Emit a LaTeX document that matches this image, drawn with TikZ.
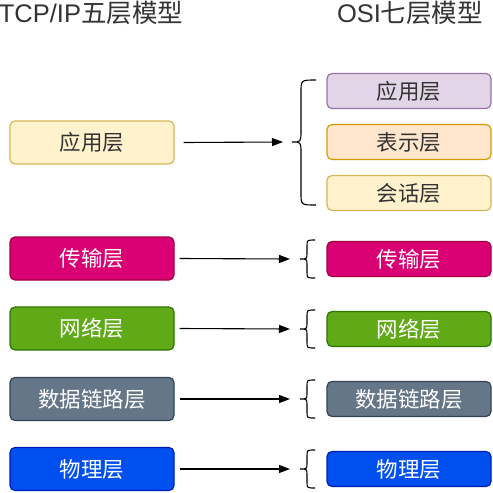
\documentclass[tikz,border=0pt]{standalone}
\usepackage{fontspec}
\setmainfont{Liberation Sans}
\newfontfamily\cjk{Noto Sans CJK SC}
\usetikzlibrary{arrows.meta}
\definecolor{ylwF}{HTML}{FFF2CC}\definecolor{ylwD}{HTML}{D6B656}
\definecolor{purF}{HTML}{E1D5E7}\definecolor{purD}{HTML}{9673A6}
\definecolor{orgF}{HTML}{FFE6CC}\definecolor{orgD}{HTML}{D79B00}
\definecolor{magF}{HTML}{D80073}\definecolor{magD}{HTML}{A50040}
\definecolor{grnF}{HTML}{60A917}\definecolor{grnD}{HTML}{2D7600}
\definecolor{gryF}{HTML}{647687}\definecolor{gryD}{HTML}{314354}
\definecolor{bluF}{HTML}{0050EF}\definecolor{bluD}{HTML}{001DBC}
\definecolor{txt}{HTML}{333333}
\tikzset{
  layer/.style={draw, rounded corners=5pt, line width=1.2pt, minimum width=164pt, inner sep=0pt, font=\fontsize{21.5}{21.5}\selectfont\cjk},
  lbox/.style={layer, minimum height=43pt},
  rbox/.style={layer, minimum height=35pt},
  conn/.style={-{Triangle[length=11pt,width=8pt]}, line width=1.1pt},
  brc/.style={line width=1.1pt},
  ttl/.style={font=\fontsize{25.5}{25.5}\selectfont, text=txt, inner sep=0pt}
}
\begin{document}
\begin{tikzpicture}[x=1pt,y=-1pt]
\useasboundingbox (0,0) rectangle (493,493);
\node[ttl] (t1) at (91,12.5) {TCP/IP{\cjk 五层模型}};
\node[ttl] (t2) at (410,12.5) {OSI{\cjk 七层模型}};
% left column
\node[lbox, fill=ylwF, draw=ylwD, text=txt] (l1) at (92,142.5) {应用层};
\node[lbox, fill=magF, draw=magD, text=white] (l2) at (92,258.5) {传输层};
\node[lbox, fill=grnF, draw=grnD, text=white] (l3) at (92,328.5) {网络层};
\node[lbox, fill=gryF, draw=gryD, text=white] (l4) at (92,399) {数据链路层};
\node[lbox, fill=bluF, draw=bluD, text=white] (l5) at (92,469) {物理层};
% right column
\node[rbox, fill=purF, draw=purD, text=txt] (r1) at (409,91) {应用层};
\node[rbox, fill=orgF, draw=orgD, text=txt] (r2) at (409,142) {表示层};
\node[rbox, fill=ylwF, draw=ylwD, text=txt] (r3) at (409,193) {会话层};
\node[rbox, fill=magF, draw=magD, text=white] (r4) at (409,259) {传输层};
\node[rbox, fill=grnF, draw=grnD, text=white] (r5) at (409,329) {网络层};
\node[rbox, fill=gryF, draw=gryD, text=white] (r6) at (409,399) {数据链路层};
\node[rbox, fill=bluF, draw=bluD, text=white] (r7) at (409,469) {物理层};
% brace tips
\coordinate (b1) at (291,142);
\coordinate (b2) at (299,259);
\coordinate (b3) at (299,329);
\coordinate (b4) at (299,399);
\coordinate (b5) at (299,469);
% arrows
\draw[conn] ([xshift=9pt]l1.east) -- ([xshift=-8pt]b1);
\draw[conn] ([xshift=5pt]l2.east) -- ([xshift=-9pt]b2);
\draw[conn] ([xshift=5pt]l3.east) -- ([xshift=-9pt]b3);
\draw[conn] ([xshift=5pt]l4.east) -- ([xshift=-9pt]b4);
\draw[conn] ([xshift=5pt]l5.east) -- ([xshift=-9pt]b5);
% big brace
\draw[brc] (316,80) .. controls (301,80) .. (301,92) -- (301,131)
  .. controls (301,142) .. (292,142) .. controls (301,142) .. (301,153)
  -- (301,193) .. controls (301,205) .. (316,205);
% small braces
\foreach \c in {259,329,399,469}{
  \draw[brc] (315,\c-19) .. controls (307,\c-19) .. (307,\c-13) -- (307,\c-6)
    .. controls (307,\c) .. (300,\c) .. controls (307,\c) .. (307,\c+6)
    -- (307,\c+13) .. controls (307,\c+19) .. (315,\c+19);
}
\end{tikzpicture}
\end{document}
